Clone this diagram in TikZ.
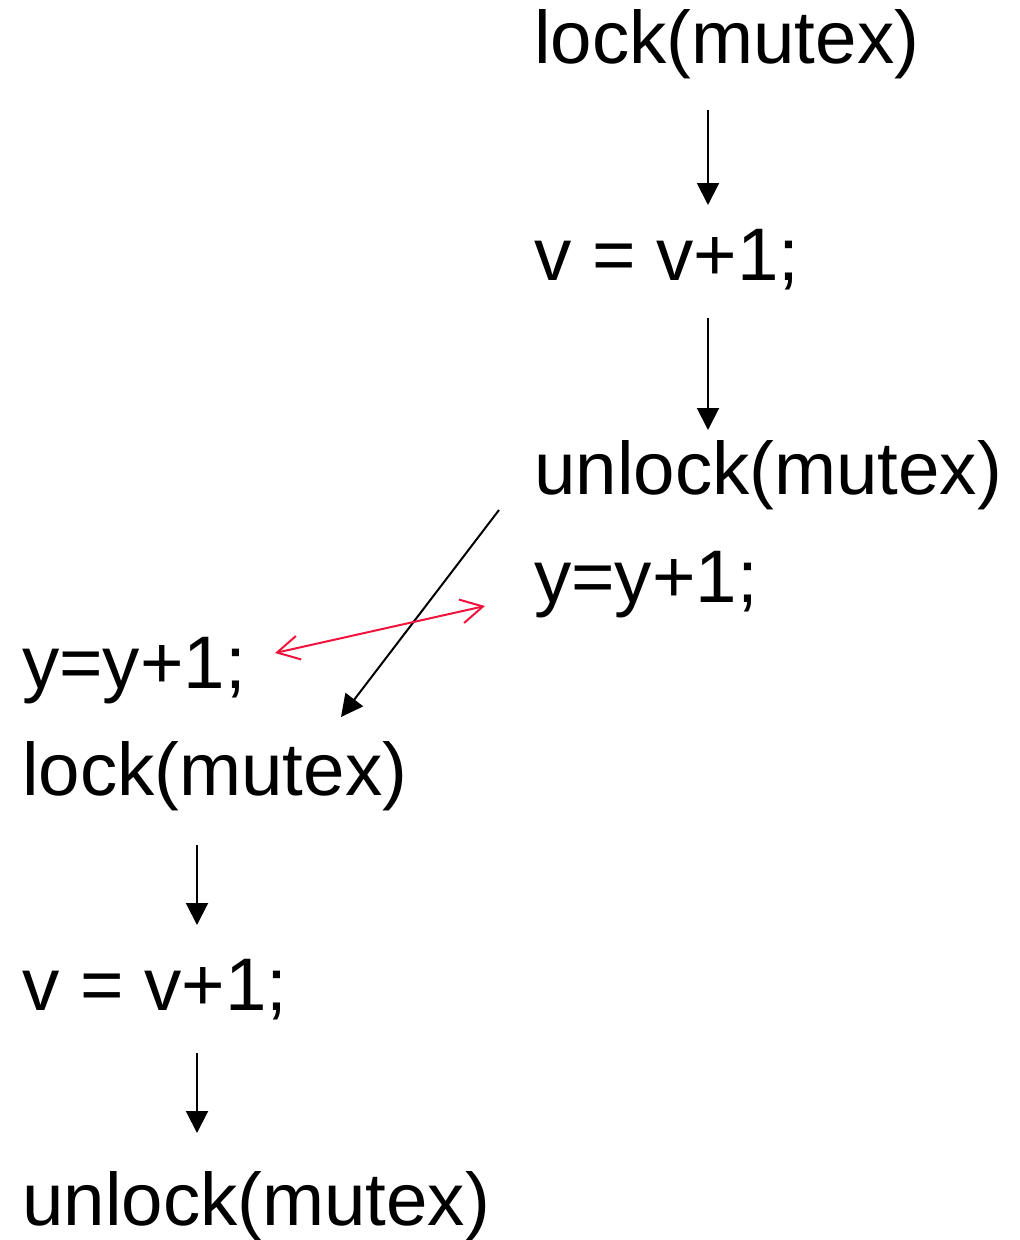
\documentclass[tikz,border=0pt]{standalone}
\usepackage{fontspec}
\setmainfont{Liberation Sans}
\usepackage{tikz}
\usetikzlibrary{arrows.meta,calc}
\usepackage{xcolor}
\definecolor{swapred}{RGB}{240,20,60}

\begin{document}
\begin{tikzpicture}[x=1pt,y=-1pt,
  stmt/.style={anchor=base west,inner sep=0pt,font=\fontsize{74.5}{80}\selectfont},
  flow/.style={line width=2pt,-{Triangle[length=22pt,width=22pt]}},
  swap/.style={line width=2pt,swapred,{Straight Barb[length=22pt,width=24pt]}-{Straight Barb[length=22pt,width=24pt]}}]
\useasboundingbox (0,0) rectangle (1020,1240);

% thread 1
\node[stmt] (lockA) at (534,63) {lock(mutex)};
\node[stmt] (incA) at (534,280) {v = v+1;};
\node[stmt] (unlockA) at (534,494) {unlock(mutex)};
\node[stmt] (yA) at (534,602) {y=y+1;};

% thread 2
\node[stmt] (yB) at (22,688) {y=y+1;};
\node[stmt] (lockB) at (22,795) {lock(mutex)};
\node[stmt] (incB) at (22,1010) {v = v+1;};
\node[stmt] (unlockB) at (22,1225) {unlock(mutex)};

\draw[flow] ([shift={(174,47)}]lockA.base west) -- ([shift={(174,-75)}]incA.base west);
\draw[flow] ([shift={(174,38)}]incA.base west) -- ([shift={(174,-64)}]unlockA.base west);
\draw[flow] ([shift={(175,50)}]lockB.base west) -- ([shift={(175,-85)}]incB.base west);
\draw[flow] ([shift={(175,43)}]incB.base west) -- ([shift={(175,-92)}]unlockB.base west);

% hand-over
\draw[flow] ([shift={(-35,16)}]unlockA.base west) -- ([shift={(319,-78)}]lockB.base west);
\draw[swap] ([shift={(253,-35)}]yB.base west) -- ([shift={(-49,4)}]yA.base west);
\end{tikzpicture}
\end{document}
